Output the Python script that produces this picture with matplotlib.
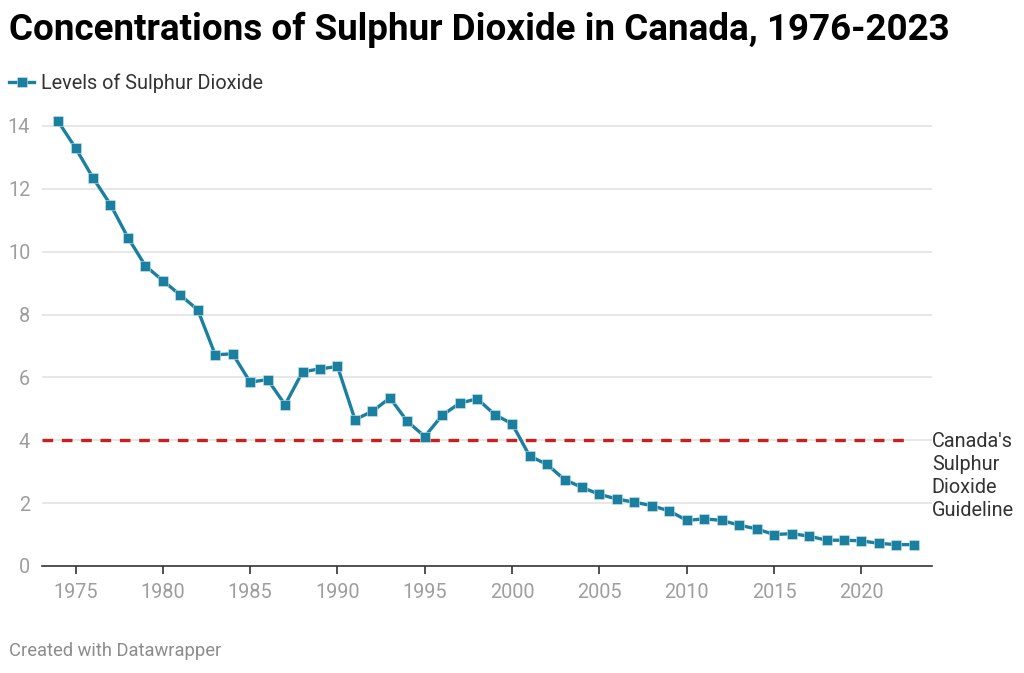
import numpy as np
import matplotlib.pyplot as plt

plt.rcParams['font.family'] = ['Roboto', 'DejaVu Sans']

# Data
years = np.arange(1974, 2024)
so2 = [14.15, 13.3, 12.35, 11.5, 10.45, 9.55, 9.08, 8.62, 8.15, 6.72,
       6.75, 5.85, 5.93, 5.13, 6.18, 6.27, 6.35, 4.66, 4.92, 5.35,
       4.6, 4.12, 4.8, 5.18, 5.32, 4.82, 4.52, 3.5, 3.23, 2.75,
       2.5, 2.28, 2.13, 2.03, 1.92, 1.75, 1.45, 1.5, 1.45, 1.3,
       1.18, 1.0, 1.03, 0.95, 0.82, 0.82, 0.8, 0.72, 0.68, 0.68]
guideline = 4
yticks = [0, 2, 4, 6, 8, 10, 12, 14]
xticks = [1975, 1980, 1985, 1990, 1995, 2000, 2005, 2010, 2015, 2020]

line_color = "#1b7fa0"
red = "#cc1e1e"
grid_color = "#e3e3e3"
tick_color = "#9e9e9e"
fs = 14.3

fig = plt.figure(figsize=(10.24, 6.73), dpi=100)
ax = fig.add_axes([0.041, 0.159, 0.869, 0.6725])

xmin, xmax = 1973.08, 2024.03
ax.set_xlim(xmin, xmax)
ax.set_ylim(0, 14.4)

# gridlines
for y in yticks[1:]:
    ax.axhline(y, color=grid_color, lw=1.2, zorder=0)

# guideline
ax.hlines(guideline, xmin, 2022.8, colors=red, lw=2.4,
          linestyles=(0, (3.2, 2.6)), zorder=2)

ax.plot(years, so2, color=line_color, lw=2.4, marker="s", markersize=7.8,
        markeredgecolor="#cfe6ee", markeredgewidth=0.4, zorder=3,
        label="Levels of Sulphur Dioxide")

for s in ["top", "right", "left"]:
    ax.spines[s].set_visible(False)
ax.spines["bottom"].set_color("#333333")
ax.spines["bottom"].set_linewidth(1.2)

ax.set_yticks(yticks)
ax.set_yticklabels([str(v) for v in yticks])
ax.tick_params(axis="y", length=0, pad=8.5, labelsize=fs, labelcolor=tick_color)
ax.set_xticks(xticks)
ax.tick_params(axis="x", length=6, width=1.2, color="#333333", pad=6,
               labelsize=fs, labelcolor=tick_color)

# annotation for guideline
ax.text(xmax, guideline + 0.27, "Canada's\nSulphur\nDioxide\nGuideline",
        ha="left", va="top", fontsize=fs, color="#333333", linespacing=1.27)

fig.text(0.009, 0.955, "Concentrations of Sulphur Dioxide in Canada, 1976-2023",
         fontsize=26.5, fontweight="bold", color="#000000", va="center")

leg = fig.legend(loc="center left", bbox_to_anchor=(0.009, 0.877),
                 frameon=False, fontsize=fs, handlelength=1.25,
                 handletextpad=0.35, borderpad=0, borderaxespad=0)
for t in leg.get_texts():
    t.set_color("#333333")

fig.text(0.009, 0.032, "Created with Datawrapper", fontsize=13.2,
         color="#8c8c8c", va="center")

fig.savefig("out.png", dpi=100)
